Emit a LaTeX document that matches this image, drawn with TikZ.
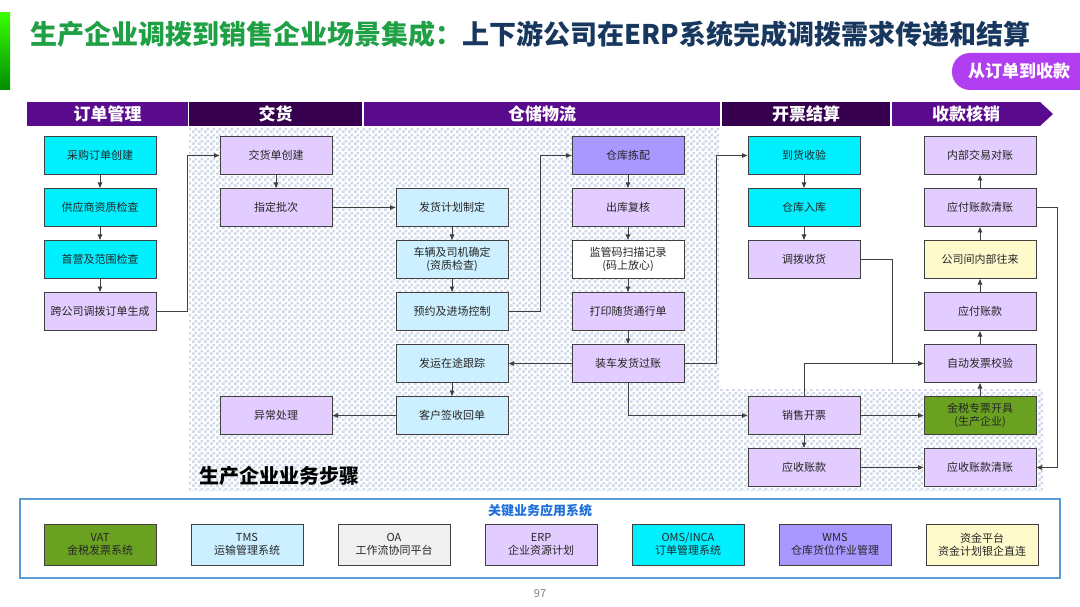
\documentclass[tikz,border=0pt]{standalone}
\usepackage{fontspec}
\setmainfont{Noto Sans CJK SC}
\usetikzlibrary{positioning,patterns,arrows.meta}
\definecolor{tgreen}{HTML}{1FA045}
\definecolor{tnavy}{HTML}{17375E}
\definecolor{hpurple}{HTML}{5A0A8C}
\definecolor{hdark}{HTML}{36004F}
\definecolor{cyanbox}{HTML}{00F0FF}
\definecolor{lilac}{HTML}{E3CCFF}
\definecolor{skyb}{HTML}{CCF0FF}
\definecolor{wmsp}{HTML}{A898FF}
\definecolor{paley}{HTML}{FFFACC}
\definecolor{vatg}{HTML}{6AA121}
\definecolor{oag}{HTML}{F0F0F0}
\definecolor{edgec}{HTML}{404040}
\definecolor{legb}{HTML}{5B9BD5}
\definecolor{legt}{HTML}{1E6FD8}
\definecolor{badgec}{HTML}{B23EF2}
\definecolor{checkc}{HTML}{D0D8E8}
\pgfdeclarepatternformonly{checks}{\pgfpointorigin}{\pgfqpoint{6pt}{6pt}}{\pgfqpoint{6pt}{6pt}}{%
  \pgfpathrectangle{\pgfpointorigin}{\pgfqpoint{3pt}{3pt}}%
  \pgfpathrectangle{\pgfqpoint{3pt}{3pt}}{\pgfqpoint{3pt}{3pt}}%
  \pgfusepath{fill}}
\tikzset{
  box/.style={draw=edgec, line width=1pt, minimum width=112pt, minimum height=38pt,
    inner sep=1pt, outer sep=0pt, align=center, text=black!85,
    font=\fontsize{11}{13}\selectfont},
  legbox/.style={box, minimum height=41pt},
  hdr/.style={minimum height=24pt, inner sep=0pt, outer sep=0pt, text=white,
    font=\fontsize{17}{17}\selectfont\bfseries},
  flow/.style={draw=edgec, line width=0.9pt, -{Latex[length=6pt,width=5pt]}},
}

\begin{document}
\begin{tikzpicture}[x=1pt,y=-1pt,node distance=14pt and 64pt]
    \useasboundingbox (0,0) rectangle (1080,607);
    \shade[top color=green!70!lime, bottom color=green!55!black] (0,13) rectangle (10,90);
    \node[anchor=west, font=\fontsize{27}{27}\selectfont\bfseries] (title) at (27,34)
        {\textcolor{tgreen}{生产企业调拨到销售企业场景集成：}\textcolor{tnavy}{上下游公司在ERP系统完成调拨需求传递和结算}};
    \fill[badgec, rounded corners=18pt] (952,53) rectangle (1110,90);
    \node[text=white, font=\fontsize{17}{17}\selectfont\bfseries] (badge) at (1019,71.5) {从订单到收款};

    \node[hdr, fill=hpurple, minimum width=161pt] (h1) at (107.5,114) {订单管理};
    \node[hdr, fill=hdark, minimum width=173pt] (h2) at (275.5,114) {交货};
    \node[hdr, fill=hpurple, minimum width=356pt] (h3) at (542,114) {仓储物流};
    \node[hdr, fill=hdark, minimum width=168pt] (h4) at (806,114) {开票结算};
    \node[hdr, fill=hpurple, minimum width=148pt] (h5) at (966,114) {收款核销};
    \fill[hpurple] (h5.north east) -- ++(13,12) -- (h5.south east) -- cycle;

    \fill[pattern=checks, pattern color=checkc] (189,127) -- (720,127) -- (720,389)
        -- (1043,389) -- (1043,491) -- (189,491) -- cycle;
    \node[anchor=west, font=\fontsize{20}{20}\selectfont\bfseries] (steps) at (196,476) {生产企业业务步骤};

    \node[box, fill=cyanbox] (o1) at (100,155.5) {采购订单创建};
    \node[box, fill=cyanbox, below=of o1] (o2) {供应商资质检查};
    \node[box, fill=cyanbox, below=of o2] (o3) {首营及范围检查};
    \node[box, fill=lilac, below=of o3] (o4) {跨公司调拨订单生成};
    \node[box, fill=lilac, right=of o1] (j1) {交货单创建};
    \node[box, fill=lilac, below=of j1] (j2) {指定批次};
    \node[box, fill=skyb, right=of j2] (f2) {发货计划制定};
    \node[box, fill=skyb, below=of f2] (f3) {车辆及司机确定\\(资质检查)};
    \node[box, fill=skyb, below=of f3] (f4) {预约及进场控制};
    \node[box, fill=skyb, below=of f4] (f5) {发运在途跟踪};
    \node[box, fill=skyb, below=of f5] (f6) {客户签收回单};
    \node[box, fill=lilac, left=of f6] (j6) {异常处理};
    \node[box, fill=lilac, right=of f2] (c2) {出库复核};
    \node[box, fill=wmsp, above=of c2] (c1) {仓库拣配};
    \node[box, fill=white, below=of c2] (c3) {监管码扫描记录\\(码上放心)};
    \node[box, fill=lilac, below=of c3] (c4) {打印随货通行单};
    \node[box, fill=lilac, below=of c4] (c5) {装车发货过账};
    \node[box, fill=cyanbox, right=of c1] (k1) {到货收验};
    \node[box, fill=cyanbox, below=of k1] (k2) {仓库入库};
    \node[box, fill=lilac, below=of k2] (k3) {调拨收货};
    \node[box, fill=lilac, right=of k1] (s1) {内部交易对账};
    \node[box, fill=lilac, below=of s1] (s2) {应付账款清账};
    \node[box, fill=paley, below=of s2] (s3) {公司间内部往来};
    \node[box, fill=lilac, below=of s3] (s4) {应付账款};
    \node[box, fill=lilac, below=of s4] (s5) {自动发票校验};
    \node[box, fill=vatg, below=of s5] (s6) {金税专票开具\\(生产企业)};
    \node[box, fill=lilac, below=of s6] (s7) {应收账款清账};
    \node[box, fill=lilac, left=of s6] (k6) {销售开票};
    \node[box, fill=lilac, left=of s7] (k7) {应收账款};

    \draw[flow] (o1) -- (o2);
    \draw[flow] (o2) -- (o3);
    \draw[flow] (o3) -- (o4);
    \draw[flow] (o4.east) -- ++(31,0) |- (j1.west);
    \draw[flow] (j1) -- (j2);
    \draw[flow] (j2) -- (f2);
    \draw[flow] (f2) -- (f3);
    \draw[flow] (f3) -- (f4);
    \draw[flow] (f4.east) -- ++(32,0) |- (c1.west);
    \draw[flow] (c1) -- (c2);
    \draw[flow] (c2) -- (c3);
    \draw[flow] (c3) -- (c4);
    \draw[flow] (c4) -- (c5);
    \draw[flow] (c5) -- (f5);
    \draw[flow] (c5.east) -- ++(32,0) |- (k1.west);
    \draw[flow] (c5.south) |- (k6.west);
    \draw[flow] (f5) -- (f6);
    \draw[flow] (f6) -- (j6);
    \draw[flow] (k1) -- (k2);
    \draw[flow] (k2) -- (k3);
    \draw[flow] (k3.east) -- ++(32,0) |- (s5.west);
    \draw[flow] (k6.north) |- (s5.west);
    \draw[flow] (k6) -- (s6);
    \draw[flow] (k6) -- (k7);
    \draw[flow] (k7) -- (s7);
    \draw[flow] (s6) -- (s5);
    \draw[flow] (s5) -- (s4);
    \draw[flow] (s4) -- (s3);
    \draw[flow] (s3) -- (s2);
    \draw[flow] (s2) -- (s1);
    \draw[flow] (s2.east) -- ++(21,0) |- (s7.east);

    \draw[legb, line width=1.2pt] (20,499) rectangle (1060,578);
    \node[text=legt, font=\fontsize{13}{13}\selectfont\bfseries] (legtitle) at (540,511) {关键业务应用系统};
    \node[legbox, fill=vatg] (l1) at (100,544.5) {VAT\\金税发票系统};
    \node[legbox, fill=skyb, right=35pt of l1] (l2) {TMS\\运输管理系统};
    \node[legbox, fill=oag, right=35pt of l2] (l3) {OA\\工作流协同平台};
    \node[legbox, fill=lilac, right=35pt of l3] (l4) {ERP\\企业资源计划};
    \node[legbox, fill=cyanbox, right=35pt of l4] (l5) {OMS/INCA\\订单管理系统};
    \node[legbox, fill=wmsp, right=35pt of l5] (l6) {WMS\\仓库货位作业管理};
    \node[legbox, fill=paley, right=35pt of l6] (l7) {资金平台\\资金计划银企直连};
    \node[text=gray, font=\fontsize{11}{11}\selectfont] (pnum) at (540,594) {97};
\end{tikzpicture}
\end{document}
